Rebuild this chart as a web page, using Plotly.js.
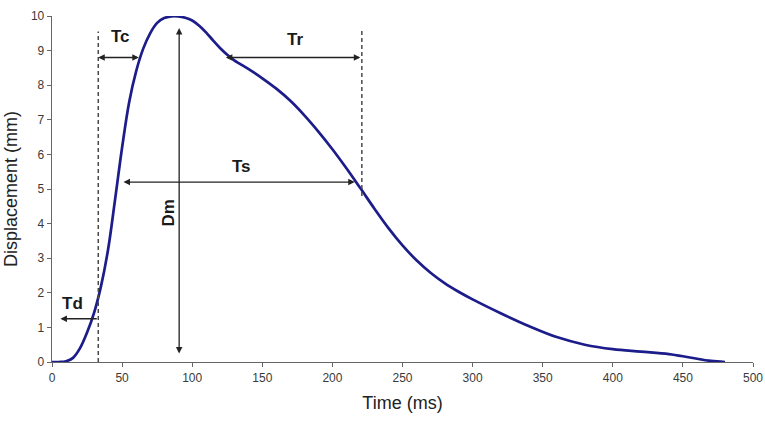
<!DOCTYPE html>
<html>
<head>
<meta charset="utf-8">
<script src="https://cdn.plot.ly/plotly-3.0.1.min.js"></script>
<style>
  body { margin: 0; background: #fff; }
  #chart { width: 765px; height: 424px; }
</style>
</head>
<body>
<div id="chart"></div>
<script>
// displacement curve
const timeMs = [0, 5, 10, 15, 20, 25, 30, 35, 40, 45, 50, 55, 60, 65, 70, 75, 80, 85, 90, 95, 100, 105, 110, 115, 120, 125, 130, 140, 150, 160, 170, 180, 190, 200, 210, 220, 230, 240, 250, 260, 270, 280, 290, 300, 320, 340, 360, 380, 400, 420, 440, 455, 470, 480];
const dispMm = [0, 0, 0.02, 0.12, 0.4, 0.85, 1.42, 2.2, 3.25, 4.7, 6.2, 7.5, 8.4, 9.05, 9.5, 9.8, 9.94, 9.99, 9.99, 9.95, 9.87, 9.72, 9.52, 9.29, 9.07, 8.88, 8.72, 8.47, 8.2, 7.9, 7.55, 7.13, 6.66, 6.15, 5.6, 5.02, 4.43, 3.87, 3.37, 2.94, 2.58, 2.28, 2.03, 1.81, 1.41, 1.04, 0.72, 0.5, 0.37, 0.3, 0.23, 0.13, 0.03, 0];

// dashed guide lines: [time, yFrom, yTo]
const guideLeft = [33, 0, 9.55];
const guideRight = [221, 4.8, 9.65];

// measurement arrows: [label, xHead, yHead, xTail, yTail, bothEnds]
const spans = [
  ["Td", 6, 1.25, 33, 1.25, false],
  ["Tc", 33, 8.8, 63, 8.8, true],
  ["Tr", 124, 8.8, 221, 8.8, true],
  ["Ts", 51, 5.2, 217, 5.2, true],
  ["Dm", 90.7, 9.65, 90.7, 0.2, true]
];
// label anchors: [label, x, y, angle]
const spanLabels = [
  ["Td", 14.5, 1.68, 0],
  ["Tc", 49, 9.4, 0],
  ["Tr", 173, 9.33, 0],
  ["Ts", 135, 5.64, 0],
  ["Dm", 83, 4.3, -90]
];

var curve = {
  x: timeMs,
  y: dispMm,
  mode: "lines",
  type: "scatter",
  line: { color: "#1c1c8a", width: 2.7, shape: "spline", smoothing: 1 },
  hoverinfo: "skip",
};

var dashStyle = { color: "#4a4a4a", width: 1.5, dash: "4px,3px" };
var leftLine = {
  x: [guideLeft[0], guideLeft[0]],
  y: [guideLeft[1], guideLeft[2]],
  mode: "lines",
  line: dashStyle,
  hoverinfo: "skip",
};
var rightLine = {
  x: [guideRight[0], guideRight[0]],
  y: [guideRight[1], guideRight[2]],
  mode: "lines",
  line: dashStyle,
  hoverinfo: "skip",
};

var annotations = [];
spans.forEach(function (s) {
  annotations.push({
    x: s[1], y: s[2], ax: s[3], ay: s[4],
    xref: "x", yref: "y", axref: "x", ayref: "y",
    text: "",
    showarrow: true,
    arrowhead: 2,
    startarrowhead: 2,
    arrowside: s[5] ? "end+start" : "end",
    arrowsize: 1,
    startarrowsize: 1,
    arrowwidth: 1.3,
    arrowcolor: "#222222",
  });
});
spanLabels.forEach(function (l) {
  annotations.push({
    x: l[1], y: l[2], xref: "x", yref: "y",
    text: "<b>" + l[0] + "</b>",
    showarrow: false,
    textangle: l[3],
    font: { family: "Liberation Sans, Arial", size: 17, color: "#1a1a1a" },
  });
});

var layout = {
  width: 765,
  height: 424,
  showlegend: false,
  margin: { t: 16, b: 62, l: 52, r: 12, pad: 0 },
  paper_bgcolor: "#ffffff",
  plot_bgcolor: "#ffffff",
  font: { family: "Liberation Sans, Arial", color: "#333333" },
  xaxis: {
    range: [0, 500],
    dtick: 50,
    showgrid: false,
    zeroline: false,
    showline: true,
    linecolor: "#666666",
    linewidth: 1.3,
    ticks: "outside",
    ticklen: 4,
    tickcolor: "#666666",
    tickfont: { size: 12, color: "#3a3a3a" },
    title: { text: "Time (ms)", font: { size: 18, color: "#222222" }, standoff: 12 },
  },
  yaxis: {
    range: [0, 10],
    dtick: 1,
    showgrid: false,
    zeroline: false,
    showline: true,
    linecolor: "#666666",
    linewidth: 1.3,
    ticks: "outside",
    ticklen: 4,
    tickcolor: "#666666",
    tickfont: { size: 12, color: "#3a3a3a" },
    title: { text: "Displacement (mm)", font: { size: 18, color: "#222222" }, standoff: 8 },
  },
  annotations: annotations,
};

Plotly.newPlot("chart", [curve, leftLine, rightLine], layout, { staticPlot: true });
</script>
</body>
</html>
